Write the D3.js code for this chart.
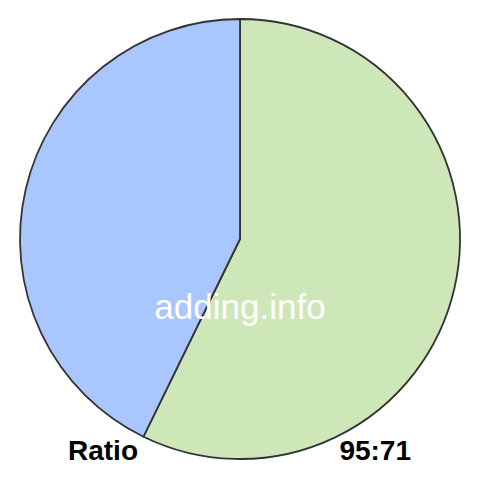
<!DOCTYPE html>
<html>
<head>
<meta charset="utf-8">
<script src="https://cdn.jsdelivr.net/npm/d3@7"></script>
<style>
body{margin:0;background:#fff}
</style>
</head>
<body>
<div id="chart"></div>
<script>
var labels = ["first", "second"]
var values = [95, 71]
var colours = ["#cde7b9", "#a9c7fd"]
var leftText = "Ratio"
var rightText = values.join(":")
var watermark = "adding.info"

var width = 480, height = 480, radius = 220
var cx = 240, cy = 239

var svg = d3.select("#chart")
.append("svg")
.attr("width", width)
.attr("height", height)

var pie = d3.pie().sort(null).value(function(d){ return d })
var arc = d3.arc().innerRadius(0).outerRadius(radius)

var g = svg.append("g")
.attr("transform", "translate(" + cx + "," + cy + ")")

g.selectAll("path")
.data(pie(values))
.enter()
.append("path")
.attr("d", arc)
.style("fill", function(d, i){ return colours[i] })
.style("stroke", "#333")
.style("stroke-width", 1.8)
.style("stroke-linejoin", "round")

svg.append("text")
.attr("x", cx)
.attr("y", 319)
.attr("text-anchor", "middle")
.style("font-family", "Liberation Sans, Arial, sans-serif")
.style("font-size", "35px")
.style("fill", "#fff")
.text(watermark)

svg.append("text")
.attr("x", 68)
.attr("y", 460)
.style("font-family", "Liberation Sans, Arial, sans-serif")
.style("font-weight", "bold")
.style("font-size", "28px")
.style("fill", "#000")
.text(leftText)

svg.append("text")
.attr("x", 411)
.attr("y", 460)
.attr("text-anchor", "end")
.style("font-family", "Liberation Sans, Arial, sans-serif")
.style("font-weight", "bold")
.style("font-size", "28px")
.style("fill", "#000")
.text(rightText)
</script>
</body>
</html>
